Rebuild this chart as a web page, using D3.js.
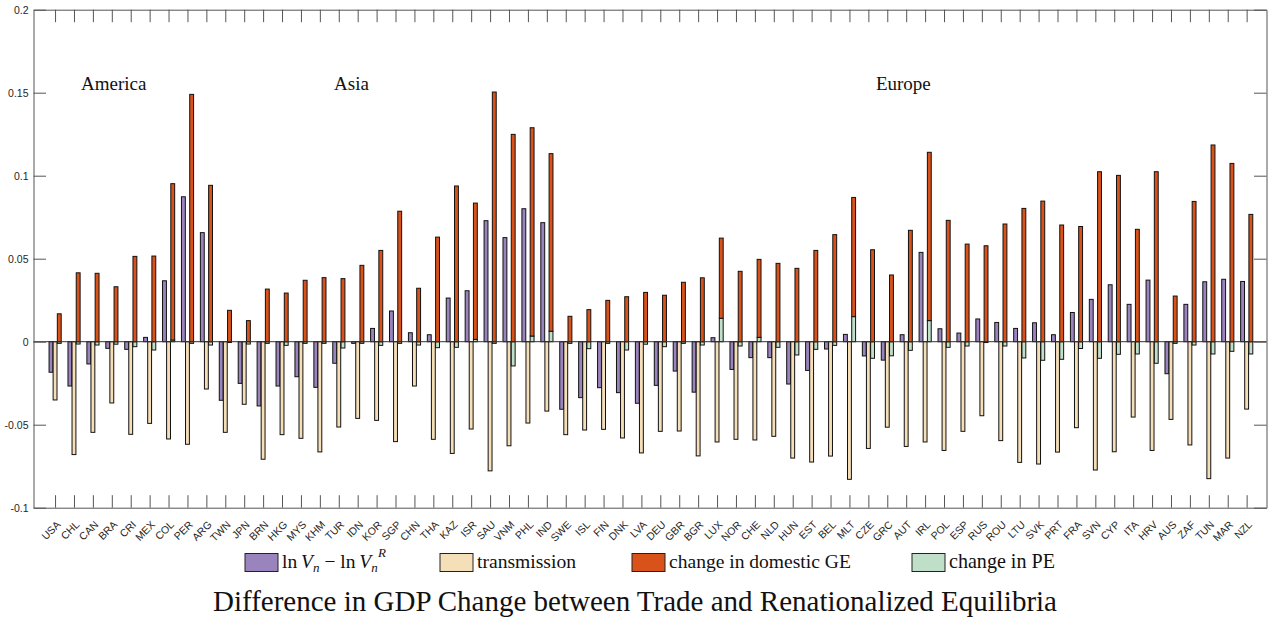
<!DOCTYPE html>
<html><head><meta charset="utf-8">
<script src="https://cdn.jsdelivr.net/npm/d3@7"></script>
<style>
body{margin:0;background:#fff;}
svg{display:block;}
</style></head>
<body>
<svg id="chart" width="1271" height="620"></svg>
<script>
const countries = ["USA","CHL","CAN","BRA","CRI","MEX","COL","PER","ARG","TWN","JPN","BRN","HKG","MYS","KHM","TUR","IDN","KOR","SGP","CHN","THA","KAZ","ISR","SAU","VNM","PHL","IND","SWE","ISL","FIN","DNK","LVA","DEU","GBR","BGR","LUX","NOR","CHE","NLD","HUN","EST","BEL","MLT","CZE","GRC","AUT","IRL","POL","ESP","RUS","ROU","LTU","SVK","PRT","FRA","SVN","CYP","ITA","HRV","AUS","ZAF","TUN","MAR","NZL"];

const lnV = [-0.0184,-0.0267,-0.0134,-0.0040,-0.0046,0.0026,0.0367,0.0873,0.0657,-0.0353,-0.0251,-0.0387,-0.0267,-0.0211,-0.0275,-0.0130,-0.0010,0.0080,0.0185,0.0054,0.0042,0.0263,0.0307,0.0729,0.0627,0.0801,0.0717,-0.0407,-0.0337,-0.0277,-0.0307,-0.0371,-0.0263,-0.0177,-0.0304,0.0024,-0.0167,-0.0096,-0.0096,-0.0255,-0.0173,-0.0044,0.0044,-0.0086,-0.0111,0.0042,0.0538,0.0078,0.0052,0.0137,0.0116,0.0080,0.0114,0.0042,0.0176,0.0255,0.0343,0.0225,0.0371,-0.0193,0.0225,0.0361,0.0376,0.0363];

const transmission = [-0.0351,-0.0680,-0.0546,-0.0369,-0.0558,-0.0492,-0.0586,-0.0618,-0.0285,-0.0546,-0.0377,-0.0708,-0.0560,-0.0582,-0.0664,-0.0514,-0.0462,-0.0474,-0.0602,-0.0267,-0.0588,-0.0673,-0.0526,-0.0778,-0.0627,-0.0490,-0.0418,-0.0560,-0.0532,-0.0528,-0.0580,-0.0670,-0.0540,-0.0538,-0.0688,-0.0604,-0.0588,-0.0592,-0.0570,-0.0701,-0.0725,-0.0689,-0.0829,-0.0643,-0.0515,-0.0631,-0.0604,-0.0655,-0.0540,-0.0446,-0.0596,-0.0727,-0.0737,-0.0665,-0.0518,-0.0773,-0.0663,-0.0454,-0.0655,-0.0468,-0.0622,-0.0825,-0.0701,-0.0406];

const domesticGE = [0.0168,0.0415,0.0412,0.0331,0.0514,0.0516,0.0942,0.1490,0.0942,0.0189,0.0127,0.0317,0.0293,0.0370,0.0386,0.0380,0.0460,0.0550,0.0786,0.0322,0.0630,0.0938,0.0821,0.1504,0.1249,0.1255,0.1070,0.0153,0.0193,0.0249,0.0271,0.0297,0.0280,0.0358,0.0385,0.0483,0.0424,0.0470,0.0472,0.0442,0.0550,0.0645,0.0718,0.0554,0.0402,0.0671,0.1014,0.0731,0.0588,0.0578,0.0709,0.0803,0.0847,0.0703,0.0694,0.1024,0.1002,0.0677,0.1024,0.0275,0.0845,0.1185,0.1074,0.0767];

const changePE = [-0.0010,-0.0014,-0.0020,-0.0015,-0.0030,-0.0050,0.0010,-0.0010,-0.0020,-0.0005,-0.0014,-0.0010,-0.0022,-0.0010,-0.0010,-0.0038,-0.0010,-0.0022,-0.0010,-0.0020,-0.0036,-0.0034,0.0014,-0.0010,-0.0146,0.0034,0.0063,-0.0010,-0.0042,-0.0010,-0.0050,-0.0015,-0.0030,-0.0010,-0.0020,0.0141,-0.0026,0.0026,-0.0034,-0.0080,-0.0046,-0.0022,0.0151,-0.0100,-0.0085,-0.0052,0.0127,-0.0034,-0.0026,-0.0005,-0.0026,-0.0098,-0.0112,-0.0106,-0.0041,-0.0100,-0.0076,-0.0074,-0.0130,-0.0010,-0.0020,-0.0074,-0.0058,-0.0074];

const yTickValues = [-0.1,-0.05,0,0.05,0.1,0.15,0.2];
const yTickLabels = ["-0.1","-0.05","0","0.05","0.1","0.15","0.2"];
const regionNames = ["America","Asia","Europe"];
const regionAt = [2.37, 15.75, 44.4];
const legendLabels = ["ln V_n − ln V_n^R","transmission","change in domestic GE","change in PE"];
const colors = {lnV:"#9a84be", tr:"#f5dfb9", ge:"#d9521a", pe:"#c0dfc9"};

const svg = d3.select("#chart");
const x = d3.scaleLinear().domain([-0.14, 65.05]).range([33.5, 1266.5]);
const y = d3.scaleLinear().domain([-0.1, 0.2]).range([507.7, 9.7]);
const idx = countries.map((c,i)=>i+1);
const bw = 0.205;
const off = {lnV:-0.215, tr:0.0, st:0.222};
const axisColor = "#555";
const textColor = "#262626";

const data = countries.map((c,i)=>({i:i+1, c, lnV:lnV[i], tr:transmission[i], ge:domesticGE[i], pe:changePE[i]}));

const gBars = svg.append("g");
function barRect(sel, xc, v0, v1, fill){
  sel.append("rect")
    .attr("x", x(xc) - (x(bw)-x(0))/2)
    .attr("width", x(bw)-x(0))
    .attr("y", y(Math.max(v0,v1)))
    .attr("height", Math.abs(y(v0)-y(v1)))
    .attr("fill", fill)
    .attr("stroke", "#111")
    .attr("stroke-width", 1);
}
data.forEach(d=>{
  barRect(gBars, d.i+off.lnV, 0, d.lnV, colors.lnV);
  barRect(gBars, d.i+off.tr, 0, d.tr, colors.tr);
  barRect(gBars, d.i+off.st, 0, d.pe, colors.pe);
  const base = Math.max(d.pe, 0);
  barRect(gBars, d.i+off.st, base, base + d.ge, colors.ge);
});

// baseline
svg.append("line").attr("x1", x.range()[0]).attr("x2", x.range()[1])
  .attr("y1", y(0)).attr("y2", y(0)).attr("stroke", "#333").attr("stroke-width",1);

// axes
const tickLen = 12.5;
const axB = svg.append("g").attr("transform",`translate(0,${y(-0.1)})`)
  .call(d3.axisBottom(x).tickValues(idx).tickSize(-tickLen).tickSizeOuter(0).tickFormat(i=>countries[i-1]));
const axT = svg.append("g").attr("transform",`translate(0,${y(0.2)})`)
  .call(d3.axisTop(x).tickValues(idx).tickSize(-tickLen).tickSizeOuter(0).tickFormat(""));
const axL = svg.append("g").attr("transform",`translate(${x.range()[0]},0)`)
  .call(d3.axisLeft(y).tickValues(yTickValues).tickSize(-tickLen).tickSizeOuter(0).tickPadding(5)
    .tickFormat(v=>yTickLabels[yTickValues.indexOf(v)]));
const axR = svg.append("g").attr("transform",`translate(${x.range()[1]},0)`)
  .call(d3.axisRight(y).tickValues(yTickValues).tickSize(-tickLen).tickSizeOuter(0).tickFormat(""));

[axB,axT,axL,axR].forEach(a=>{
  a.selectAll("path.domain").attr("stroke",axisColor).attr("stroke-width",1);
  a.selectAll(".tick line").attr("stroke",axisColor).attr("stroke-width",1);
  a.selectAll("text").attr("fill",textColor).style("font-family","'Liberation Sans', Arial, Helvetica, sans-serif").style("font-size","10.5px");
});
axB.selectAll(".tick text")
  .attr("text-anchor","end")
  .attr("dy","0.35em")
  .attr("y",0)
  .attr("transform","translate(3,15) rotate(-45)");

// region labels
const serif = "'Liberation Serif','Times New Roman',serif";
regionNames.forEach((name,k)=>{
  svg.append("text").attr("x", x(regionAt[k])).attr("y", 90)
    .style("font-family", serif).style("font-size","19px").attr("fill","#111").text(name);
});

// legend
const legend = svg.append("g");
const legKeys = ["lnV","tr","ge","pe"];
const legX = [245, 440, 632, 912];
const legTargetW = [103, 99, 182, 106];
legKeys.forEach((key,k)=>{
  legend.append("rect").attr("x",legX[k]).attr("y",553.5).attr("width",33).attr("height",18)
    .attr("fill",colors[key]).attr("stroke","#222").attr("stroke-width",1);
  if(k===0){
    const t = legend.append("text").attr("x", legX[k]+37).attr("y",568)
      .style("font-family",serif).style("font-size","19.5px").attr("fill","#111");
    t.append("tspan").text("ln\u2009");
    t.append("tspan").style("font-style","italic").text("V");
    t.append("tspan").style("font-style","italic").style("font-size","13px").attr("dy",4).text("n");
    t.append("tspan").attr("dy",-4).text(" \u2212 ln\u2009");
    t.append("tspan").style("font-style","italic").text("V");
    t.append("tspan").style("font-style","italic").style("font-size","13px").attr("dy",4).text("n");
    legend.append("text").attr("x", legX[k]+37+96).attr("y",557)
      .style("font-family",serif).style("font-size","13px").style("font-style","italic").attr("fill","#111").text("R");
  } else {
    const t = legend.append("text").attr("x", legX[k]+37).attr("y",568)
      .style("font-family",serif).style("font-size","19px").attr("fill","#111").text(legendLabels[k]);
    const w = t.node().getComputedTextLength();
    t.style("font-size", (19*legTargetW[k]/w).toFixed(2)+"px");
  }
});

// title
const title = svg.append("text").attr("x", 635).attr("y", 611).attr("text-anchor","middle")
  .style("font-family",serif).style("font-size","24px").attr("fill","#111")
  .text("Difference in GDP Change between Trade and Renationalized Equilibria");
const tw = title.node().getComputedTextLength();
title.style("font-size", (24*844/tw).toFixed(2)+"px");
</script>
</body></html>
